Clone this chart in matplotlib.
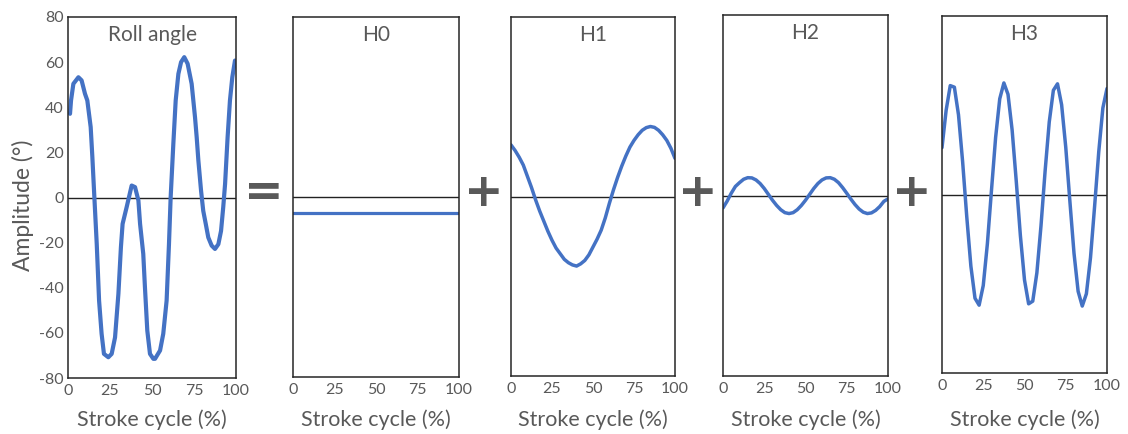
import matplotlib
matplotlib.use("Agg")
import matplotlib.pyplot as plt

plt.rcParams['font.family'] = ['Lato', 'DejaVu Sans']

# ---- data -------------------------------------------------------------
# Roll angle over one stroke cycle (%), degrees
roll_t = [1.2, 1.8, 3.2, 6.2, 8.1, 10.1, 11.5, 13.5, 14.5, 15.7, 17.1, 18.5, 20.0,
          21.4, 24.0, 26.0, 28.0, 30.0, 31.5, 32.5, 34.9, 37.9, 39.9, 41.9, 42.9,
          44.8, 45.8, 47.2, 48.8, 50.8, 51.8, 54.8, 56.7, 58.7, 60.1, 61.1, 62.7,
          64.1, 65.7, 67.3, 69.2, 71.2, 73.6, 75.6, 76.6, 77.6, 79.2, 80.5, 82.0,
          83.5, 85.5, 87.5, 89.5, 91.1, 92.4, 93.5, 95.0, 96.4, 97.8, 99.4]
roll_v = [37.1, 43.0, 50.4, 53.3, 51.9, 46.0, 43.0, 31.2, 17.9, 0.0, -20.5, -45.7, -60.4,
          -69.3, -70.8, -69.3, -62.0, -42.7, -22.0, -11.7, -4.3, 5.3, 4.6, -1.3, -11.7,
          -25.0, -39.8, -59.0, -69.3, -71.5, -71.5, -67.8, -60.4, -45.7, -20.7, 0.0, 23.8,
          43.0, 54.8, 60.0, 62.2, 59.3, 50.4, 35.6, 26.7, 16.4, 3.0, -5.9, -11.7,
          -17.7, -21.3, -22.8, -20.7, -14.8, -4.3, 6.0, 26.7, 43.0, 53.3, 60.7]

# Harmonic components, sampled every 2.5 % of the cycle
harm_t = [0, 2.5, 5, 7.5, 10, 12.5, 15, 17.5, 20, 22.5, 25, 27.5, 30, 32.5, 35, 37.5,
          40, 42.5, 45, 47.5, 50, 52.5, 55, 57.5, 60, 62.5, 65, 67.5, 70, 72.5, 75,
          77.5, 80, 82.5, 85, 87.5, 90, 92.5, 95, 97.5, 100]

h0_t = [0, 100]
h0_v = [-7.0, -7.0]

h1_v = [23.0, 20.5, 17.5, 14.0, 9.0, 4.0, -1.5, -6.5, -11.0, -15.5, -19.5, -23.0,
        -25.5, -28.0, -29.5, -30.5, -31.0, -30.0, -28.5, -26.0, -22.5, -19.0, -15.0,
        -9.5, -3.0, 3.0, 8.5, 13.5, 18.0, 22.0, 25.0, 27.5, 29.5, 30.7, 31.2, 30.8,
        29.5, 27.5, 25.0, 21.5, 17.0]

h2_v = [-5.5, -2.5, 1.0, 4.0, 5.7, 7.2, 7.9, 7.8, 6.9, 5.3, 3.1, 0.5, -2.1, -4.4,
        -6.3, -7.6, -8.0, -7.6, -6.3, -4.4, -2.1, 0.5, 3.1, 5.3, 6.9, 7.8, 7.9, 7.2,
        5.7, 3.5, 1.0, -1.6, -4.0, -6.0, -7.4, -8.0, -7.7, -6.6, -4.9, -2.6, -1.5]

h3_v = [21.0, 37.7, 48.8, 48.1, 35.7, 14.7, -9.9, -32.1, -46.5, -49.6, -40.8, -22.1,
        2.0, 25.6, 42.9, 50.0, 44.9, 28.9, 6.0, -18.4, -38.3, -49.0, -47.8, -35.1,
        -14.0, 10.6, 32.5, 46.7, 49.6, 40.2, 21.2, -3.0, -26.3, -43.4, -50.0, -44.5,
        -28.3, -5.2, 19.1, 38.8, 47.5]

titles = ["Roll angle", "H0", "H1", "H2", "H3"]
xticks = [0, 25, 50, 75, 100]
yticks = [-80, -60, -40, -20, 0, 20, 40, 60, 80]
xlabel = "Stroke cycle (%)"
ylabel = "Amplitude (°)"
operators = ["=", "+", "+", "+"]

# ---- layout -----------------------------------------------------------
W, H = 1128, 434
fig = plt.figure(figsize=(W / 100, H / 100), dpi=100)

# panel boxes in pixels: left, right, top, bottom
boxes = [(68, 236, 17, 378), (293, 459, 17, 377), (511, 675, 17, 376),
         (723, 888, 15, 376), (942, 1107, 16, 373)]

BLUE = "#4472C4"
GREY = "#595959"

series = [(roll_t, roll_v, 3.0), (h0_t, h0_v, 2.3), (harm_t, h1_v, 2.5),
          (harm_t, h2_v, 2.5), (harm_t, h3_v, 2.5)]

XLABEL_Y = 420   # pixel row of the x-axis label centres
YLABEL_X = 23    # pixel column of the y-axis label centre
YLABEL_Y = 205

for i, ((l, r, t, b), (xs, ys, lw), title) in enumerate(zip(boxes, series, titles)):
    ax = fig.add_axes([l / W, 1 - b / H, (r - l) / W, (b - t) / H])
    ax.set_xlim(0, 100)
    ax.set_ylim(-80, 80)
    ax.axhline(0, color="#222222", lw=1.0, zorder=1)
    ax.plot(xs, ys, color=BLUE, lw=lw, solid_capstyle="round",
            solid_joinstyle="round", zorder=2)
    for s in ax.spines.values():
        s.set_color("#262626")
        s.set_linewidth(1.1)
    ax.set_xticks(xticks)
    ax.set_xticklabels([str(v) for v in xticks])
    ax.tick_params(axis="x", length=0, labelsize=11.5, labelcolor=GREY, pad=4.5)
    ax.tick_params(axis="y", length=0, labelsize=11.5, labelcolor=GREY, pad=3)
    if i == 0:
        ax.set_yticks(yticks)
        ax.set_yticklabels([str(v) for v in yticks])
        ax.set_ylabel(ylabel, fontsize=16.5, color=GREY)
        ax.yaxis.set_label_coords((YLABEL_X - l) / (r - l), (b - YLABEL_Y) / (b - t))
        ax.yaxis.label.set_va("center")
    else:
        ax.set_yticks([])
    ax.set_xlabel(xlabel, fontsize=15.5, color=GREY)
    ax.xaxis.set_label_coords(0.5, -(XLABEL_Y - b) / (b - t))
    ax.xaxis.label.set_va("center")
    ax.annotate(title, xy=(0.5, 1), xycoords="axes fraction",
                xytext=(0, -5.5), textcoords="offset points",
                ha="center", va="top", fontsize=15, color=GREY)

# operators between panels
op_x = [264, 484, 698, 912]
op_y = [194, 193, 193, 193]
for sym, x, y in zip(operators, op_x, op_y):
    fig.text(x / W, 1 - y / H, sym, ha="center", va="center",
             fontsize=34, fontweight="bold", color=GREY,
             family=["DejaVu Sans"])

fig.savefig("out.png", dpi=100)
